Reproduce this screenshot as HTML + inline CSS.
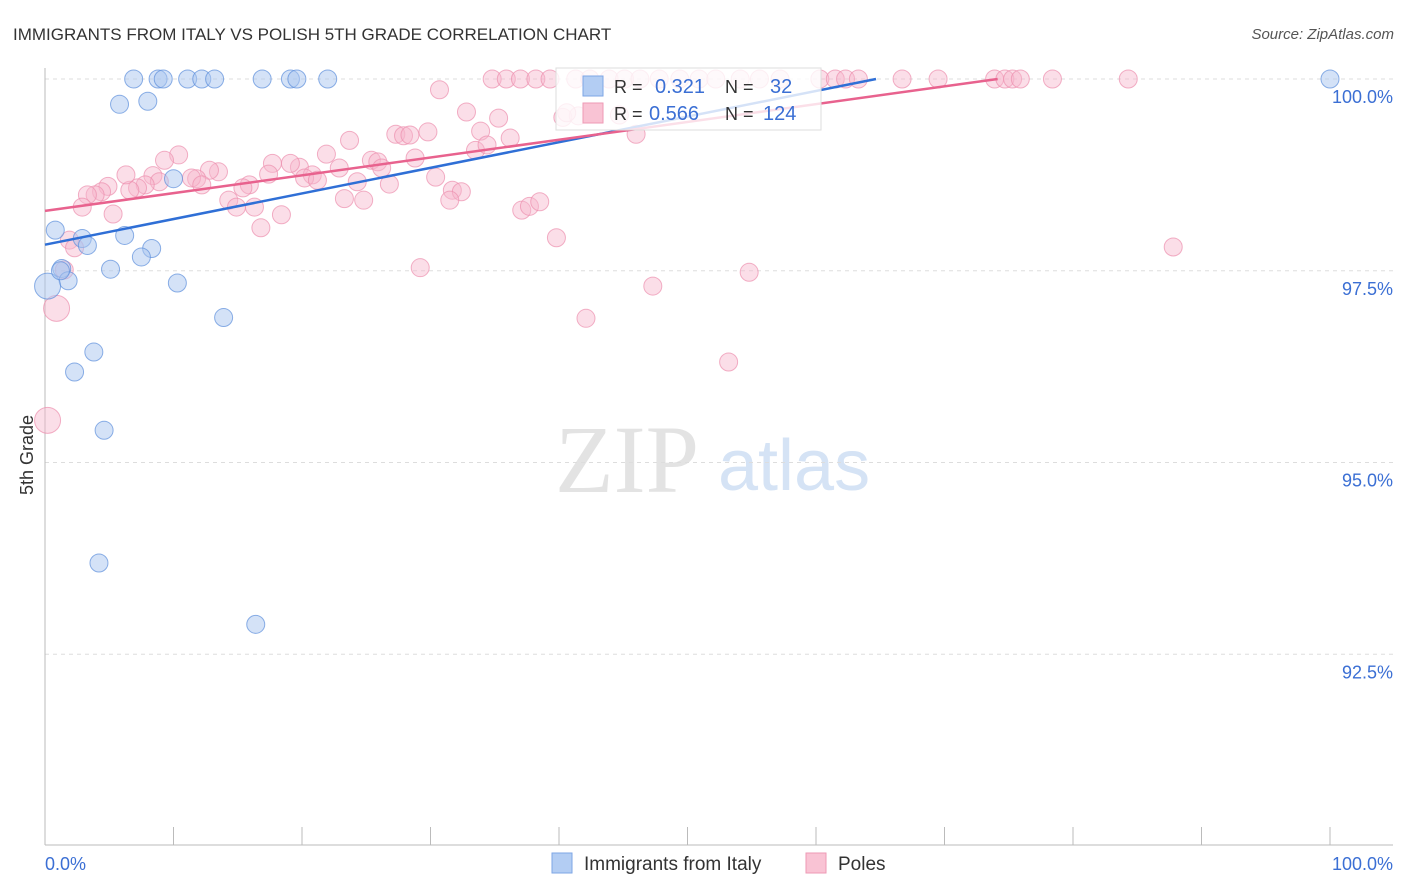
<!DOCTYPE html>
<html><head><meta charset="utf-8">
<style>
body{margin:0;background:#fff;font-family:"Liberation Sans",sans-serif;}
svg{display:block}
</style></head>
<body>
<svg id="chart" width="1406" height="892" viewBox="0 0 1406 892">
<text x="13" y="40" font-size="17" fill="#333">IMMIGRANTS FROM ITALY VS POLISH 5TH GRADE CORRELATION CHART</text>
<text x="1394" y="39" font-size="15" fill="#555" font-style="italic" text-anchor="end">Source: ZipAtlas.com</text>
<text x="0" y="0" transform="translate(33,455) rotate(-90)" font-size="18" fill="#333" text-anchor="middle">5th Grade</text>
<g>
<text x="555" y="492" font-size="96" font-family="Liberation Serif,serif" fill="#e3e3e3">ZIP</text>
<text x="718" y="490" font-size="72" fill="#d5e3f5">atlas</text>
</g>
<g id="grid"></g>
<g id="axes"></g>
<g id="pts"></g>
<g id="lines"></g>
<g>
<rect x="556" y="68" width="265" height="62" fill="#fff" fill-opacity="0.8" stroke="#ddd"/>
<rect x="583" y="76" width="20" height="20" fill="#b3cdf3" stroke="#7ea6e6"/>
<rect x="583" y="103" width="20" height="20" fill="#f9c3d4" stroke="#ee9ab5"/>
<text x="614" y="93" font-size="18" fill="#333">R =</text>
<text x="655" y="93" font-size="20" fill="#3b6fd4">0.321</text>
<text x="725" y="93" font-size="18" fill="#333">N =</text>
<text x="770" y="93" font-size="20" fill="#3b6fd4">32</text>
<text x="614" y="120" font-size="18" fill="#333">R =</text>
<text x="649" y="120" font-size="20" fill="#3b6fd4">0.566</text>
<text x="725" y="120" font-size="18" fill="#333">N =</text>
<text x="763" y="120" font-size="20" fill="#3b6fd4">124</text>
</g>
<g>
<rect x="552" y="853" width="20" height="20" fill="#b3cdf3" stroke="#7ea6e6"/>
<text x="584" y="870" font-size="19" fill="#333">Immigrants from Italy</text>
<rect x="806" y="853" width="20" height="20" fill="#f9c3d4" stroke="#ee9ab5"/>
<text x="838" y="870" font-size="19" fill="#333">Poles</text>
</g>
</svg>
<script>
const yTicks=[100,97.5,95,92.5];
const yTickLabels=["100.0%","97.5%","95.0%","92.5%"];
const xTicks=[0,10,20,30,40,50,60,70,80,90,100];
const italyX=[6.9,8.8,9.2,11.1,12.2,13.2,16.9,19.1,19.6,22.0,5.8,8.0,0.8,2.9,3.3,6.2,8.3,7.5,5.1,1.3,1.8,10.3,13.9,0.2,3.8,2.3,4.6,4.2,16.4,10.0,100,1.2];
const italyY=[100,100,100,100,100,100,100,100,100,100,99.67,99.71,98.03,97.92,97.83,97.96,97.79,97.68,97.52,97.53,97.37,97.34,96.89,97.3,96.44,96.18,95.42,93.69,92.89,98.7,100,97.5];
const polesX=[
34.8,35.9,37.0,38.2,39.3,41.3,42.4,43.9,45.1,46.3,
47.8,49.4,50.9,52.2,54.1,55.6,57.2,60.3,61.5,62.3,
63.3,66.7,69.5,73.9,74.7,75.3,75.9,78.4,84.3,
30.7,32.8,35.3,40.3,41.5,46.0,33.9,36.2,33.5,34.4,
27.3,27.9,28.4,29.8,23.7,28.8,25.4,25.9,26.2,21.9,
22.9,24.3,26.8,30.4,31.7,32.4,31.5,37.1,37.7,38.5,
39.8,29.2,42.1,47.3,54.8,53.2,87.8,19.8,20.8,19.1,
17.7,17.4,15.9,15.4,14.3,14.9,16.3,16.8,18.4,13.5,
12.8,11.8,11.4,12.2,10.4,9.3,8.4,8.9,7.8,7.2,
6.6,6.3,4.9,4.4,3.9,3.3,2.9,5.3,1.9,2.3,
1.5,0.9,0.2,20.2,21.2,23.3,24.8,40.6,44.7];
const polesY=[
100,100,100,100,100,100,100,100,100,100,
100,100,100,100,100,100,100,100,100,100,
100,100,100,100,100,100,100,100,100,
99.86,99.57,99.49,99.50,99.52,99.28,99.32,99.23,99.07,99.14,
99.28,99.26,99.27,99.31,99.20,98.97,98.94,98.92,98.84,99.02,
98.84,98.66,98.63,98.72,98.55,98.53,98.42,98.29,98.34,98.40,
97.93,97.54,96.88,97.30,97.48,96.31,97.81,98.85,98.75,98.90,
98.90,98.76,98.62,98.58,98.42,98.33,98.33,98.06,98.23,98.79,
98.81,98.70,98.71,98.62,99.01,98.94,98.74,98.66,98.62,98.58,
98.55,98.75,98.60,98.53,98.49,98.49,98.33,98.24,97.90,97.80,
97.51,97.01,95.55,98.71,98.68,98.44,98.42,99.56,99.53];
const italyFit=[97.84,0.0334];
const polesFit=[98.28,0.0232];
const X=v=>45+v*12.85, Y=v=>79+(100-v)*76.7;
const NS="http://www.w3.org/2000/svg";
function mk(t,a,p){const e=document.createElementNS(NS,t);for(const k in a)e.setAttribute(k,a[k]);p.appendChild(e);return e;}
const grid=document.getElementById('grid'),axes=document.getElementById('axes'),pts=document.getElementById('pts'),lines=document.getElementById('lines');
yTicks.forEach((t,i)=>{
 const l=mk('line',{x1:45,x2:1393,y1:Y(t),y2:Y(t),stroke:'#ddd','stroke-dasharray':'4,4'},grid);
 
 
 const tx=mk('text',{x:1393,y:Y(t)+24,'font-size':18,fill:'#3b6fd4','text-anchor':'end'},axes);
 tx.textContent=yTickLabels[i];
 
 
});
const ya=mk('line',{x1:45,x2:45,y1:68,y2:845,stroke:'#bbb'},axes);


const xa=mk('line',{x1:45,x2:1393,y1:845,y2:845,stroke:'#bbb'},axes);


xTicks.forEach(t=>{
 const l=mk('line',{x1:X(t),x2:X(t),y1:827,y2:845,stroke:'#bbb'},axes);
 
 
});
const xl0=mk('text',{x:45,y:870,'font-size':18,fill:'#3b6fd4'},axes);xl0.textContent='0.0%';


const xl1=mk('text',{x:1393,y:870,'font-size':18,fill:'#3b6fd4','text-anchor':'end'},axes);xl1.textContent='100.0%';


function big(x,y){return (x<1.6&&(y<97.4))?13:9;}
polesX.forEach((x,i)=>{
 const c=mk('circle',{cx:X(x),cy:Y(polesY[i]),r:big(x,polesY[i]),fill:'#f7b6cb','fill-opacity':0.45,stroke:'#ec8fae','stroke-opacity':0.7},pts);
 
 
});
italyX.forEach((x,i)=>{
 const c=mk('circle',{cx:X(x),cy:Y(italyY[i]),r:big(x,italyY[i]),fill:'#a9c6f0','fill-opacity':0.5,stroke:'#5d8fdc','stroke-opacity':0.7},pts);
 
 
});
function fit(f,col,name){
 const xe=Math.min(100,(100-f[0])/f[1]);
 const l=mk('line',{x1:X(0),y1:Y(f[0]),x2:X(xe),y2:Y(f[0]+f[1]*xe),stroke:col,'stroke-width':2.5},lines);
 
 
}
fit(italyFit,'#2f6fd6','italy-trend-line');
fit(polesFit,'#e8628e','poles-trend-line');
</script>
</body></html>
